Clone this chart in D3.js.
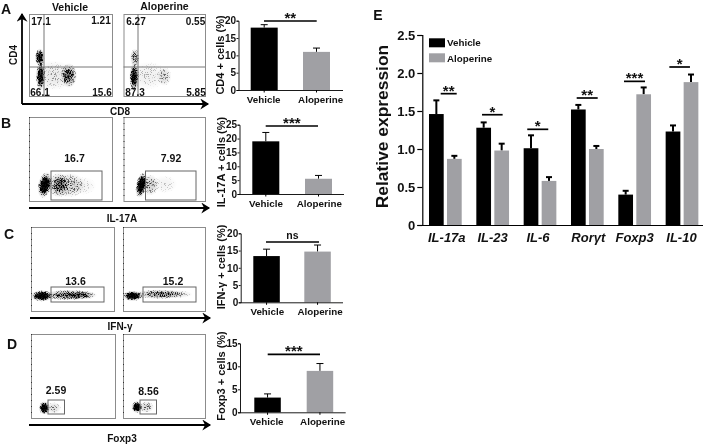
<!DOCTYPE html>
<html><head><meta charset="utf-8">
<script src="https://cdnjs.cloudflare.com/ajax/libs/d3/7.8.5/d3.min.js"></script>
<style>
html,body{margin:0;padding:0;background:#fff}
svg{display:block;filter:blur(.35px)}
text{font-family:"Liberation Sans",Arial,sans-serif;fill:#111}
</style></head><body><svg id="c" width="708" height="445"></svg>
<script>
// ---- Data ----
const groups = ["Vehicle","Aloperine"];
const cd4Values=[18,11],   cd4Err=[18.85,12.1];
const il17Values=[19,5.5], il17Err=[22.2,6.7];
const ifnValues=[13.4,14.7], ifnErr=[15.4,16.6];
const foxValues=[3.2,9],   foxErr=[4,10.6];
const cd4Ticks=[0,5,10,15,20], il17Ticks=[0,5,10,15,20,25], ifnTicks=[0,5,10,15,20], foxTicks=[0,5,10,15];
const genes=["IL-17a","IL-23","IL-6","Rorγt","Foxp3","IL-10"];
const geneVehicle=[1.46,1.28,1.01,1.52,0.40,1.23];
const geneAloperine=[0.87,0.98,0.58,1.00,1.72,1.88];
const geneVehicleErr=[1.64,1.35,1.18,1.58,0.45,1.31];
const geneAloperineErr=[0.91,1.07,0.63,1.04,1.81,1.98];
const geneSig=["**","*","*","**","***","*"];
const geneSigLevel=[1.728,1.451,1.259,1.671,1.89,2.079];
const geneTicks=[0,0.5,1.0,1.5,2.0,2.5];
const quadA1=["17.1","1.21","66.1","15.6"], quadA2=["6.27","0.55","87.3","5.85"];
const gateLabels=["16.7","7.92","13.6","15.2","2.59","8.56"];
// flow density clouds: [x, y, spreadX, spreadY, density, tilt] in 0-100 plot units
const cloudsA1=[[13,47,6,11,1,0],[14,24,6,17,1,0],[48,25,10,15,.7,0],[30,25,24,18,.22,0]];
const cloudsA2=[[14,47,6,11,.55,0],[13,23,6,18,1,0],[50,24,9,12,.3,0],[30,25,24,17,.16,0]];
const cloudsB1=[[19,19,8.5,16,1,12],[19,19,6,12,1,12],[36,19,13,15,.6,0],[48,19,20,15,.38,0],[65,18,16,11,.12,0]];
const cloudsB2=[[22,19,7,16,1,12],[22,19,5,12,1,12],[33,19,10,13,.42,0],[50,20,16,11,.12,0]];
const cloudsC1=[[13,18,14,7,1,0],[13,18,10,5,1,0],[46,19,32,6.5,.7,0],[62,19,18,5.5,.35,0]];
const cloudsC2=[[12,18,13,6.5,1,0],[12,18,9,5,1,0],[44,20,30,6,.62,0],[65,20,20,5,.25,0]];
const cloudsD1=[[16,12,7,8,1,0],[16,12,5,6,1,0],[27,12,9,7,.32,0]];
const cloudsD2=[[17,13,7,7.5,1,0],[17,13,5,5.5,1,0],[28,13,10,7,.38,0]];

// ---- Layout ----
const svg=d3.select("#c");
const BLACK="#000", GREY="#a0a0a4";
const defs=svg.append("defs");
defs.append("marker").attr("id","ah").attr("viewBox","0 0 10 10").attr("refX",8).attr("refY",5)
  .attr("markerWidth",11).attr("markerHeight",11).attr("markerUnits","userSpaceOnUse").attr("orient","auto")
  .append("path").attr("d","M1,0 L9,5 L1,10 L3.5,5 Z").attr("fill","#000");
const rg=defs.append("radialGradient").attr("id","soft");
rg.append("stop").attr("offset","0").attr("stop-color","#000").attr("stop-opacity",1);
rg.append("stop").attr("offset","0.45").attr("stop-color","#000").attr("stop-opacity",.8);
rg.append("stop").attr("offset","1").attr("stop-color","#000").attr("stop-opacity",0);
const fl=defs.append("filter").attr("id","grain").attr("filterUnits","userSpaceOnUse")
  .attr("color-interpolation-filters","sRGB")
  .attr("x",0).attr("y",0).attr("width",708).attr("height",445);
fl.append("feTurbulence").attr("type","fractalNoise").attr("baseFrequency",1.3).attr("numOctaves",2).attr("seed",4).attr("result","t");
fl.append("feColorMatrix").attr("in","t").attr("type","matrix")
  .attr("values","0 0 0 0 0  0 0 0 0 0  0 0 0 0 0  4 0 0 0 -1.6").attr("result","n");
fl.append("feComposite").attr("in","SourceGraphic").attr("in2","n").attr("operator","arithmetic")
  .attr("k1",0).attr("k2",1.9).attr("k3",1).attr("k4",-1);

function txt(x,y,s,size,opt={}){
  const t=svg.append("text").attr("x",x).attr("y",y).attr("text-anchor",opt.anchor||"middle")
    .attr("dominant-baseline","central").attr("font-size",size)
    .attr("font-weight",opt.weight||"bold").text(s);
  if(opt.italic)t.attr("font-style","italic");
  if(opt.rot)t.attr("transform",`rotate(${opt.rot} ${x} ${y})`);
  return t;
}
let clipN=0;
function plot(b,clouds,dashed){
  const x=d3.scaleLinear().domain([0,100]).range([b.x0,b.x1]);
  const y=d3.scaleLinear().domain([0,100]).range([b.y1,b.y0]);
  const id="cl"+(clipN++);
  defs.append("clipPath").attr("id",id).append("rect").attr("x",b.x0).attr("y",b.y0).attr("width",b.x1-b.x0).attr("height",b.y1-b.y0);
  const sc=(b.x1-b.x0)/100;
  const clip=svg.append("g").attr("clip-path",`url(#${id})`);
  [[null,.4],["url(#grain)",1]].forEach(([f,k])=>{
    const layer=clip.append("g");
    if(f)layer.attr("filter",f);
    layer.selectAll("ellipse").data(clouds).join("ellipse")
      .attr("cx",d=>x(d[0])).attr("cy",d=>y(d[1])).attr("rx",d=>d[2]*sc).attr("ry",d=>d[3]*sc)
      .attr("transform",d=>`rotate(${d[5]} ${x(d[0])} ${y(d[1])})`)
      .attr("fill","url(#soft)").attr("fill-opacity",d=>d[4]*k);
  });
  svg.append("rect").attr("x",b.x0+.5).attr("y",b.y0+.5).attr("width",b.x1-b.x0).attr("height",b.y1-b.y0)
    .attr("fill","none").attr("stroke","#8c8c8c").attr("stroke-width",1);
  if(dashed) svg.append("line").attr("x1",b.x0+.5).attr("x2",b.x0+.5).attr("y1",b.y0).attr("y2",b.y1)
    .attr("stroke","#333").attr("stroke-dasharray","1 5");
}
function gate(x0,y0,x1,y1){
  svg.append("rect").attr("x",x0).attr("y",y0).attr("width",x1-x0).attr("height",y1-y0)
    .attr("fill","none").attr("stroke","#666").attr("stroke-width",1);
}
function arrow(x1,y1,x2,y2){
  svg.append("line").attr("x1",x1).attr("y1",y1).attr("x2",x2).attr("y2",y2)
    .attr("stroke","#000").attr("stroke-width",1.8).attr("marker-end","url(#ah)");
}
function sigBar(x1,x2,y,label,ly,size){
  svg.append("line").attr("x1",x1).attr("x2",x2).attr("y1",y).attr("y2",y).attr("stroke","#000").attr("stroke-width",1.7);
  txt((x1+x2)/2,ly,label,size);
}

// Panel A
const A1={x0:29,x1:112,y0:14,y1:96}, A2={x0:123.5,x1:205,y0:14,y1:96};
plot(A1,cloudsA1); plot(A2,cloudsA2);
[[A1,44],[A2,138]].forEach(([b,vx])=>{
  svg.append("line").attr("x1",vx).attr("x2",vx).attr("y1",b.y0).attr("y2",b.y1).attr("stroke","#777");
  svg.append("line").attr("x1",b.x0).attr("x2",b.x1).attr("y1",67).attr("y2",67).attr("stroke","#777");
});
[[41,21],[101,20],[40,92],[102,92]].forEach((p,i)=>txt(p[0],p[1],quadA1[i],10));
[[136,21],[195.5,21],[135,92],[196,92]].forEach((p,i)=>txt(p[0],p[1],quadA2[i],10));
txt(70,6.5,groups[0],10.5); txt(164.5,6,groups[1],10.5);
arrow(22,104,22,14); arrow(22,104,208,104);
txt(13,55,"CD4",10,{rot:-90}); txt(120,111,"CD8",10);

// Panels B-D
const B1={x0:29,x1:112,y0:117,y1:201}, B2={x0:123.5,x1:205,y0:117,y1:201};
const C1={x0:31,x1:114,y0:227,y1:311}, C2={x0:123,x1:205,y0:227,y1:311};
const D1={x0:31,x1:115,y0:334,y1:418}, D2={x0:123,x1:205,y0:334,y1:418};
plot(B1,cloudsB1,true);plot(B2,cloudsB2,true);plot(C1,cloudsC1,true);plot(C2,cloudsC2,true);plot(D1,cloudsD1,true);plot(D2,cloudsD2,true);
gate(51,171,102,200);gate(145.5,171,196,200);gate(51,287,104,302);gate(143,287,196,302);gate(48,400,64.5,414);gate(140,400,156.5,414);
[[74.5,158],[171,158],[75.5,281],[173,281],[56,390],[148.5,391]].forEach((p,i)=>txt(p[0],p[1],gateLabels[i],10.5));
arrow(29,208,209,208);arrow(30,318,210,318);arrow(29,425,210,425);
txt(122,218.5,"IL-17A",10);txt(120,326,"IFN-γ",10);txt(122,438,"Foxp3",10);

[["A",6,9],["B",6,123],["C",9,234],["D",12,344],["E",378,15]].forEach(d=>txt(d[1],d[2],d[0],14));

// Small bar charts
function smallBars(o){
  const y=d3.scaleLinear().domain([0,o.max]).range([o.y0,o.yTop]);
  const x=d3.scaleOrdinal().domain(groups).range(o.left);
  const g=svg.append("g");
  const err=g.selectAll(".e").data(groups).join("g");
  err.append("line").attr("x1",d=>x(d)+o.w/2).attr("x2",d=>x(d)+o.w/2)
    .attr("y1",(d,i)=>y(o.values[i])).attr("y2",(d,i)=>y(o.err[i])).attr("stroke","#000").attr("stroke-width",1);
  err.append("line").attr("x1",d=>x(d)+o.w/2-3.5).attr("x2",d=>x(d)+o.w/2+3.5)
    .attr("y1",(d,i)=>y(o.err[i])).attr("y2",(d,i)=>y(o.err[i])).attr("stroke","#000").attr("stroke-width",1);
  g.selectAll(".b").data(groups).join("rect").attr("x",d=>x(d)).attr("width",o.w)
    .attr("y",(d,i)=>y(o.values[i])).attr("height",(d,i)=>o.y0-y(o.values[i]))
    .attr("fill",(d,i)=>i?GREY:BLACK);
  const ax=g.append("g").attr("transform",`translate(${o.ax},0)`)
    .call(d3.axisLeft(y).tickValues(o.ticks).tickFormat(d3.format("d")).tickSize(2).tickPadding(.5));
  ax.selectAll("text").attr("font-size",10).attr("font-weight","bold").attr("font-family",'"Liberation Sans"');
  ax.selectAll("path,line").attr("stroke","#000").attr("stroke-width",.9);
  g.append("line").attr("x1",o.ax).attr("x2",o.right).attr("y1",o.y0+.5).attr("y2",o.y0+.5).attr("stroke","#000").attr("stroke-width",.9);
  groups.forEach((d,i)=>{
    g.append("line").attr("x1",x(d)+o.w/2).attr("x2",x(d)+o.w/2).attr("y1",o.y0).attr("y2",o.y0+2.5).attr("stroke","#000");
    txt(o.labelX[i],o.y0+9,d,9.8);
  });
  sigBar(o.sig[0],o.sig[1],o.sig[2],o.sig[3],o.sig[4],o.sig[3]==="ns"?10.5:15);
  txt(o.titleX,o.titleY,o.title,11,{rot:-90});
}
smallBars({values:cd4Values,err:cd4Err,ticks:cd4Ticks,max:20,y0:90,yTop:20.7,ax:238.5,right:343,left:[250.7,303],w:27,labelX:[263.7,320.7],
  sig:[264,316.7,21,"**",17.5],title:"CD4 + cells (%)",titleX:219.5,titleY:55});
smallBars({values:il17Values,err:il17Err,ticks:il17Ticks,max:25,y0:194,yTop:124.7,ax:239.5,right:344,left:[252.3,305],w:27,labelX:[266,319.3],
  sig:[265.7,318,126,"***",122.5],title:"IL-17A + cells (%)",titleX:220.5,titleY:162});
smallBars({values:ifnValues,err:ifnErr,ticks:ifnTicks,max:20,y0:302.3,yTop:233.3,ax:240.7,right:343,left:[253.3,304.3],w:26.5,labelX:[267.3,320],
  sig:[266,319,242,"ns",235],title:"IFN-γ + cells (%)",titleX:220.5,titleY:267});
smallBars({values:foxValues,err:foxErr,ticks:foxTicks,max:15,y0:412.3,yTop:343.3,ax:240,right:345.7,left:[254.3,306.7],w:26.5,labelX:[266.7,322.7],
  sig:[267.7,320,354.3,"***",350.8],title:"Foxp3 + cells (%)",titleX:220.5,titleY:376});

// Panel E
(function(){
  const y=d3.scaleLinear().domain([0,2.5]).range([225,35]);
  const x=d3.scaleBand().domain(genes).range([422.3,422.3+47.33*6]);
  const w=14.7, off=[6.7,24.7];
  const left=(g,k)=>x(g)+off[k];
  const g=svg.append("g");
  [[geneVehicle,geneVehicleErr,BLACK],[geneAloperine,geneAloperineErr,GREY]].forEach(([v,e,c],k)=>{
    g.selectAll(null).data(genes).join("line").attr("x1",d=>left(d,k)+w/2).attr("x2",d=>left(d,k)+w/2)
      .attr("y1",(d,i)=>y(v[i])).attr("y2",(d,i)=>y(e[i])).attr("stroke","#000").attr("stroke-width",2);
    g.selectAll(null).data(genes).join("line").attr("x1",d=>left(d,k)+w/2-3).attr("x2",d=>left(d,k)+w/2+3)
      .attr("y1",(d,i)=>y(e[i])).attr("y2",(d,i)=>y(e[i])).attr("stroke","#000").attr("stroke-width",2);
    g.selectAll(null).data(genes).join("rect").attr("x",d=>left(d,k)).attr("width",w)
      .attr("y",(d,i)=>y(v[i])).attr("height",(d,i)=>225-y(v[i])).attr("fill",c);
  });
  const ax=g.append("g").attr("transform","translate(422.3,0)")
    .call(d3.axisLeft(y).tickValues(geneTicks).tickFormat(d=>d===0?"0":d3.format(".1f")(d)).tickSize(5).tickPadding(2));
  ax.selectAll("text").attr("font-size",13).attr("font-weight","bold").attr("font-family",'"Liberation Sans"');
  ax.selectAll("path,line").attr("stroke","#000").attr("stroke-width",1.2);
  g.append("line").attr("x1",422.3).attr("x2",703).attr("y1",225.5).attr("y2",225.5).attr("stroke","#000").attr("stroke-width",1.2);
  const labelNudge=[.5,-1,-3,0,-1,-1.5], sigCentre=[26.4,22.7,20.8,22.9,22.9,20.7], sigHalf=[8,10.3,10.5,10.5,10.5,10.3];
  genes.forEach((d,i)=>{
    txt(x(d)+24+labelNudge[i],237,d,13,{italic:true});
    const m=x(d)+sigCentre[i], ly=y(geneSigLevel[i]);
    sigBar(m-sigHalf[i],m+sigHalf[i],ly,geneSig[i],ly-3.5,15);
  });
  g.append("rect").attr("x",429).attr("y",38.3).attr("width",16).attr("height",9).attr("fill",BLACK);
  g.append("rect").attr("x",429).attr("y",53.3).attr("width",16).attr("height",9).attr("fill",GREY);
  txt(447,42.5,groups[0],9.8,{anchor:"start"});
  txt(447,58,groups[1],9.8,{anchor:"start"});
  txt(381.5,126.5,"Relative expression",17.4,{rot:-90});
})();
</script></body></html>
